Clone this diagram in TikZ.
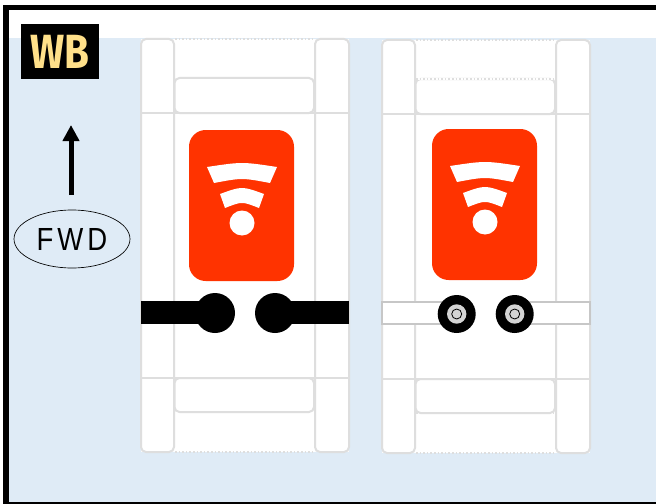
\documentclass[tikz,border=0pt]{standalone}
\usepackage{fontspec}
\usetikzlibrary{arrows.meta,shapes.geometric}
\setmainfont{Liberation Sans}
\newfontfamily\badgefont{Fira Sans}
\definecolor{floorblue}{HTML}{DFEBF6}
\definecolor{panelgray}{HTML}{DEDEDE}
\definecolor{signalred}{HTML}{FF3300}
\definecolor{badgeyellow}{HTML}{FFE08A}
\tikzset{
    panel/.style={draw=panelgray,fill=white,line width=1.5pt,rounded corners=3.75pt},
    seam/.style={draw=panelgray,line width=1.5pt},
    hidden/.style={draw=panelgray,line width=1.2pt,dash pattern=on 1.2pt off 1.5pt},
}
% one seat unit, (#1) is its upper left corner
\newcommand{\seatunit}[1]{%
    \begin{scope}[shift={(#1)}]
        \fill[white] (0,0) rectangle (208,413);
        \draw[hidden] (34,0) -- (173,0);
        \draw[hidden] (34,413) -- (173,413);
        \draw[panel] (0,0) rectangle (33,413);
        \draw[panel] (174,0) rectangle (208,413);
        \draw[seam] (0,74) -- (208,74);
        \draw[seam] (0,339) -- (208,339);
        \draw[panel] (33.5,39) rectangle (173,74);
        \draw[panel] (33.5,339) rectangle (173,373);
    \end{scope}
}
% red tag with the signal mark, (#1) is its upper left corner
\newcommand{\signaltag}[1]{%
    \begin{scope}[shift={(#1)}]
        \fill[signalred,rounded corners=12.5pt] (0,0) rectangle (105,151);
        \fill[white] (18,37) .. controls (53,31.7) .. (88,37) -- (81,53) .. controls (53,47.7) .. (25,53) -- cycle;
        \fill[white] (31,64) .. controls (53,56) .. (75,64) -- (70,78) .. controls (53,71.3) .. (36,78) -- cycle;
        \fill[white] (53,93) circle (12.5);
    \end{scope}
}
\begin{document}
\begin{tikzpicture}[x=0.75pt,y=-0.75pt]
    \useasboundingbox (0,0) rectangle (656,503);

    % Floor
    \fill[white] (0,0) rectangle (656,503);
    \fill[floorblue] (6,38) rectangle (656,503);

    % Seat units
    \seatunit{141,39}
    \seatunit{382,40}
    % right unit, open compartments
    \draw[white,line width=1.7pt] (418,79) -- (553,79);
    \draw[hidden] (416,79) -- (555,79);
    \draw[hidden] (416,413) -- (555,413);

    % Tags
    \signaltag{189,130}
    \signaltag{432,129}

    % Left axle
    \fill[black] (141,301) rectangle (215,324);
    \fill[black] (275,301) rectangle (349,324);
    \fill[black] (215,313) circle (20);
    \fill[black] (275,313) circle (20);

    % Right axle
    \draw[draw=black!22,fill=white,line width=1.5pt] (382,302) rectangle (456,324);
    \draw[draw=black!22,fill=white,line width=1.5pt] (514,302) rectangle (590,324);
    \foreach \hubx in {456.7,514.7} {
        \fill[black] (\hubx,314) circle (19);
        \fill[black!17] (\hubx,314) circle (9.7);
        \draw[black,line width=0.6pt] (\hubx,314) circle (5);
    }

    % Badge
    \node[fill=black,minimum width=58.5pt,minimum height=41.25pt,inner sep=0pt,
          text=badgeyellow,font=\badgefont\bfseries\fontsize{36}{36}\selectfont] (badge) at (60,51.5) {\scalebox{0.84}[1]{WB}};

    % Direction
    \node[draw,ellipse,line width=0.5pt,minimum width=87pt,minimum height=43.5pt,inner sep=0pt,
          font=\fontsize{24}{24}\selectfont] (fwd) at (72,239) {\scalebox{0.86}[1]{F\kern3.5pt W\kern3.5pt D}};
    \coordinate (fwdtail) at (71,195);
    \coordinate (fwdhead) at (71,125);
    \draw[-{Triangle[width=12pt,length=12pt]},line width=3.75pt] (fwdtail) -- (fwdhead);

    % Frame
    \draw[black,line width=4pt] (6,505) -- (6,7.5) -- (660,7.5);
    \draw[black,line width=4pt] (6,505) -- (660,505);
\end{tikzpicture}
\end{document}
